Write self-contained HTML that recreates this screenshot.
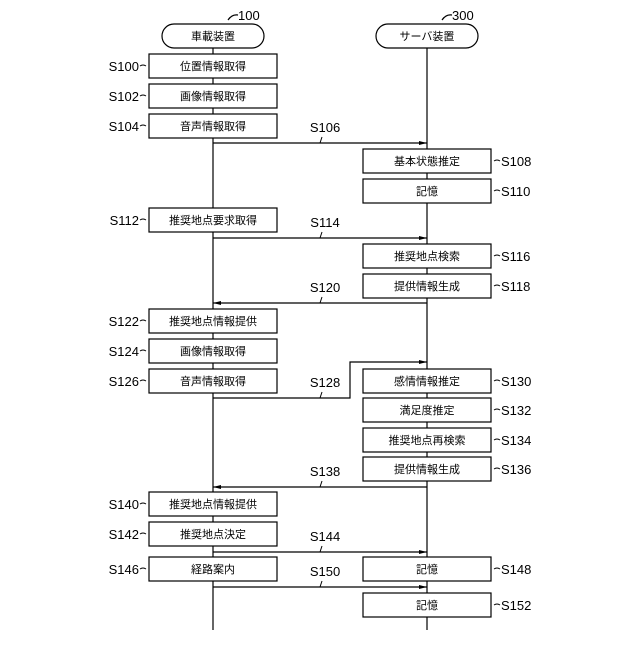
<!DOCTYPE html>
<html><head><meta charset="utf-8"><style>
html,body{margin:0;padding:0;background:#fff}
svg text{font-family:"Liberation Sans","Noto Sans CJK JP",sans-serif;fill:#000}
.b{font-size:11px}
.l{font-size:13px}
</style></head><body>
<svg width="640" height="640" viewBox="0 0 640 640" xmlns="http://www.w3.org/2000/svg">
<defs><marker id="a" markerWidth="8" markerHeight="6" refX="8" refY="3" orient="auto" markerUnits="userSpaceOnUse"><path d="M0,1 L8,3 L0,5 z" fill="#000"/></marker></defs>
<g stroke="#000" stroke-width="1.2" fill="none">
<line x1="213" y1="48" x2="213" y2="630"/>
<line x1="427" y1="48" x2="427" y2="630"/>
<rect x="162" y="24" width="102" height="24" rx="12" fill="#fff"/>
<rect x="376" y="24" width="102" height="24" rx="12" fill="#fff"/>
<path d="M228,20 q4,-6 10,-5"/><path d="M442,20 q4,-6 10,-5"/>
</g>
<text x="238" y="20" class="l">100</text>
<text x="452" y="20" class="l">300</text>
<text x="213" y="40" class="b" text-anchor="middle">車載装置</text>
<text x="427" y="40" class="b" text-anchor="middle">サーバ装置</text>
<g stroke="#000" stroke-width="1.2" fill="#fff">
<rect x="149" y="54" width="128" height="24"/>
<rect x="149" y="84" width="128" height="24"/>
<rect x="149" y="114" width="128" height="24"/>
<rect x="363" y="149" width="128" height="24"/>
<rect x="363" y="179" width="128" height="24"/>
<rect x="149" y="208" width="128" height="24"/>
<rect x="363" y="244" width="128" height="24"/>
<rect x="363" y="274" width="128" height="24"/>
<rect x="149" y="309" width="128" height="24"/>
<rect x="149" y="339" width="128" height="24"/>
<rect x="149" y="369" width="128" height="24"/>
<rect x="363" y="369" width="128" height="24"/>
<rect x="363" y="398" width="128" height="24"/>
<rect x="363" y="428" width="128" height="24"/>
<rect x="363" y="457" width="128" height="24"/>
<rect x="149" y="492" width="128" height="24"/>
<rect x="149" y="522" width="128" height="24"/>
<rect x="149" y="557" width="128" height="24"/>
<rect x="363" y="557" width="128" height="24"/>
<rect x="363" y="593" width="128" height="24"/>
</g>
<g class="b" text-anchor="middle">
<text x="213" y="70">位置情報取得</text>
<text x="213" y="100">画像情報取得</text>
<text x="213" y="130">音声情報取得</text>
<text x="427" y="165">基本状態推定</text>
<text x="427" y="195">記憶</text>
<text x="213" y="224">推奨地点要求取得</text>
<text x="427" y="260">推奨地点検索</text>
<text x="427" y="290">提供情報生成</text>
<text x="213" y="325">推奨地点情報提供</text>
<text x="213" y="355">画像情報取得</text>
<text x="213" y="385">音声情報取得</text>
<text x="427" y="385">感情情報推定</text>
<text x="427" y="414">満足度推定</text>
<text x="427" y="444">推奨地点再検索</text>
<text x="427" y="473">提供情報生成</text>
<text x="213" y="508">推奨地点情報提供</text>
<text x="213" y="538">推奨地点決定</text>
<text x="213" y="573">経路案内</text>
<text x="427" y="573">記憶</text>
<text x="427" y="609">記憶</text>
</g>
<g stroke="#000" stroke-width="1.2" fill="none">
<line x1="213" y1="143" x2="427" y2="143" marker-end="url(#a)"/>
<line x1="213" y1="238" x2="427" y2="238" marker-end="url(#a)"/>
<line x1="427" y1="303" x2="213" y2="303" marker-end="url(#a)"/>
<polyline points="213,398 350,398 350,362 427,362" marker-end="url(#a)"/>
<line x1="427" y1="487" x2="213" y2="487" marker-end="url(#a)"/>
<line x1="213" y1="552" x2="427" y2="552" marker-end="url(#a)"/>
<line x1="213" y1="587" x2="427" y2="587" marker-end="url(#a)"/>
</g>
<g stroke="#000" stroke-width="1" fill="none">
<path d="M320,143 l2,-6"/><path d="M320,238 l2,-6"/><path d="M320,303 l2,-6"/><path d="M320,398 l2,-6"/><path d="M320,487 l2,-6"/><path d="M320,552 l2,-6"/><path d="M320,587 l2,-6"/>
<path d="M146,66 q-3,-2 -6,0"/><path d="M146,96 q-3,-2 -6,0"/><path d="M146,126 q-3,-2 -6,0"/><path d="M146,220 q-3,-2 -6,0"/><path d="M146,321 q-3,-2 -6,0"/><path d="M146,351 q-3,-2 -6,0"/><path d="M146,381 q-3,-2 -6,0"/><path d="M146,504 q-3,-2 -6,0"/><path d="M146,534 q-3,-2 -6,0"/><path d="M146,569 q-3,-2 -6,0"/>
<path d="M494,161 q3,-2 6,0"/><path d="M494,191 q3,-2 6,0"/><path d="M494,256 q3,-2 6,0"/><path d="M494,286 q3,-2 6,0"/><path d="M494,381 q3,-2 6,0"/><path d="M494,410 q3,-2 6,0"/><path d="M494,440 q3,-2 6,0"/><path d="M494,469 q3,-2 6,0"/><path d="M494,569 q3,-2 6,0"/><path d="M494,605 q3,-2 6,0"/>
</g>
<g class="l" text-anchor="middle">
<text x="325" y="132">S106</text>
<text x="325" y="227">S114</text>
<text x="325" y="292">S120</text>
<text x="325" y="387">S128</text>
<text x="325" y="476">S138</text>
<text x="325" y="541">S144</text>
<text x="325" y="576">S150</text>
</g>
<g class="l" text-anchor="end">
<text x="139" y="71">S100</text>
<text x="139" y="101">S102</text>
<text x="139" y="131">S104</text>
<text x="139" y="225">S112</text>
<text x="139" y="326">S122</text>
<text x="139" y="356">S124</text>
<text x="139" y="386">S126</text>
<text x="139" y="509">S140</text>
<text x="139" y="539">S142</text>
<text x="139" y="574">S146</text>
</g>
<g class="l">
<text x="501" y="166">S108</text>
<text x="501" y="196">S110</text>
<text x="501" y="261">S116</text>
<text x="501" y="291">S118</text>
<text x="501" y="386">S130</text>
<text x="501" y="415">S132</text>
<text x="501" y="445">S134</text>
<text x="501" y="474">S136</text>
<text x="501" y="574">S148</text>
<text x="501" y="610">S152</text>
</g>
</svg>
</body></html>
